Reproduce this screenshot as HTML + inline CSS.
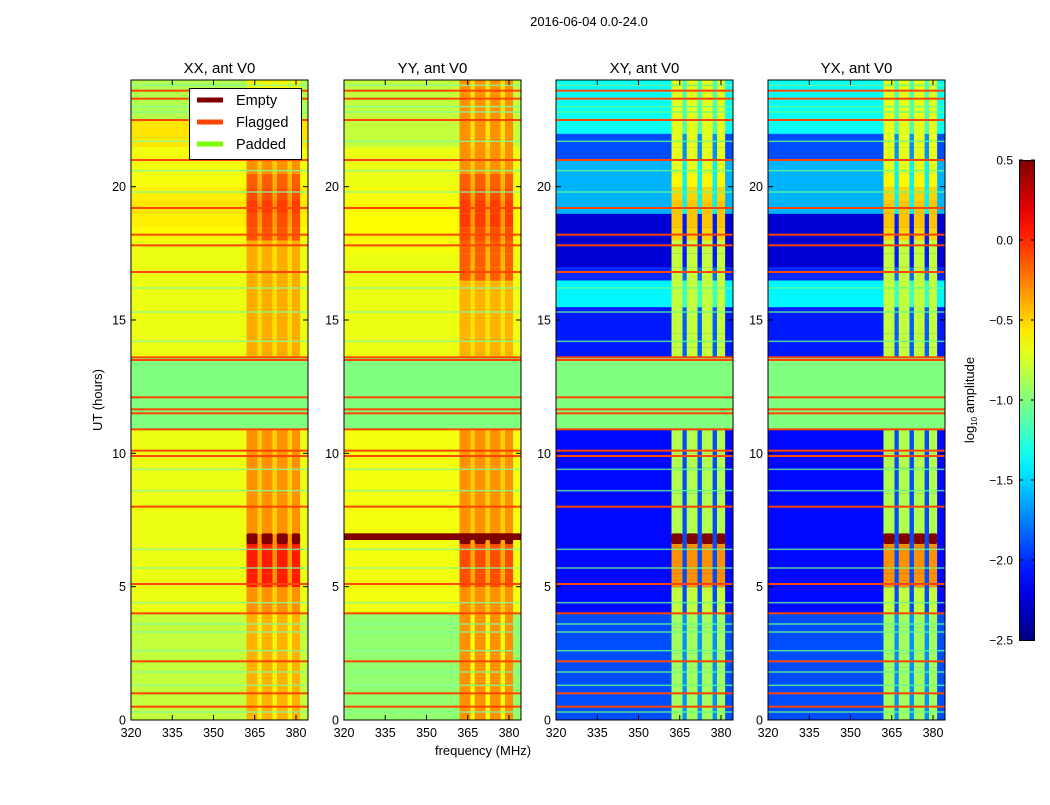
<!DOCTYPE html>
<html><head><meta charset="utf-8">
<style>
body{margin:0;background:#fff;}
svg text{font-family:"Liberation Sans",sans-serif;fill:#000;}
</style></head>
<body>
<svg id="fig" width="1050" height="800" viewBox="0 0 1050 800" xmlns="http://www.w3.org/2000/svg">
<rect width="1050" height="800" fill="#fff"/>
<text x="589" y="26" font-size="13" text-anchor="middle">2016-06-04 0.0-24.0</text>
<text transform="translate(102,400) rotate(-90)" font-size="13" text-anchor="middle">UT (hours)</text>
<text x="483" y="755" font-size="13" text-anchor="middle">frequency (MHz)</text>
<g id="panels"></g>
<g id="cbar"></g>
</svg>
<script>
const panelNames = ["XX, ant V0","YY, ant V0","XY, ant V0","YX, ant V0"];
const xTicks = [320,335,350,365,380];
const yTicks = [0,5,10,15,20];
const cbTicks = [0.5,0.0,-0.5,-1.0,-1.5,-2.0,-2.5];
const cbLabels = ["0.5","0.0","\u22120.5","\u22121.0","\u22121.5","\u22122.0","\u22122.5"];
// background level per 0.5 h row (48 rows, 0-24 h)
const xxBg = [-0.8,-0.8,-0.8,-0.8,-0.8,-0.8,-0.8,-0.8,-0.68,-0.68,-0.68,-0.68,-0.68,-0.68,-0.68,-0.68,-0.68,-0.68,-0.68,-0.68,-0.68,-0.68,-1,-1,-1,-1,-1,-0.68,-0.68,-0.68,-0.68,-0.68,-0.68,-0.68,-0.68,-0.68,-0.62,-0.58,-0.55,-0.58,-0.65,-0.66,-0.66,-0.55,-0.55,-0.85,-0.85,-0.85];
const xxSt = [-0.4,-0.4,-0.4,-0.4,-0.4,-0.4,-0.4,-0.4,-0.3,-0.3,0.05,0.05,0.05,0.05,-0.3,-0.3,-0.3,-0.3,-0.3,-0.3,-0.3,-0.3,-1,-1,-1,-1,-1,-0.38,-0.38,-0.38,-0.38,-0.38,-0.38,-0.38,-0.38,-0.38,-0.12,-0.1,-0.05,-0.1,-0.15,-0.3,-0.3,-0.3,-0.3,-0.6,-0.6,-0.6];
const yyBg = [-0.95,-0.95,-0.95,-0.95,-0.95,-0.95,-0.95,-0.95,-0.66,-0.66,-0.66,-0.66,-0.66,-0.66,-0.66,-0.66,-0.66,-0.66,-0.66,-0.66,-0.66,-0.66,-1,-1,-1,-1,-1,-0.68,-0.68,-0.68,-0.68,-0.68,-0.68,-0.68,-0.68,-0.65,-0.62,-0.62,-0.62,-0.65,-0.68,-0.68,-0.68,-0.8,-0.8,-0.8,-0.8,-0.8];
const yySt = [-0.3,-0.3,-0.3,-0.3,-0.3,-0.3,-0.3,-0.3,-0.3,-0.3,-0.1,-0.1,-0.1,-0.1,-0.3,-0.3,-0.3,-0.3,-0.3,-0.3,-0.3,-0.3,-1,-1,-1,-1,-1,-0.4,-0.4,-0.4,-0.4,-0.4,-0.4,-0.15,-0.15,-0.15,-0.1,-0.05,-0.05,-0.1,-0.15,-0.3,-0.3,-0.3,-0.3,-0.3,-0.3,-0.3];
const xyBg = [-1.9,-1.9,-1.9,-1.9,-1.9,-1.9,-1.9,-1.9,-2.1,-2.1,-2.1,-2.1,-2.1,-2.1,-2.1,-2.1,-2.1,-2.1,-2.1,-2.1,-2.1,-2.1,-1,-1,-1,-1,-1,-2.05,-2.05,-2.05,-2.05,-1.4,-1.4,-2.0,-2.25,-2.25,-2.25,-2.25,-1.6,-1.6,-1.6,-1.6,-1.9,-1.9,-1.35,-1.35,-1.35,-1.35];
const xySt = [-0.9,-0.9,-0.9,-0.9,-0.9,-0.9,-0.9,-0.9,-0.8,-0.8,-0.3,-0.3,-0.3,-0.3,-0.85,-0.85,-0.85,-0.85,-0.85,-0.85,-0.85,-0.85,-1,-1,-1,-1,-1,-0.8,-0.8,-0.8,-0.8,-0.8,-0.8,-0.8,-0.8,-0.8,-0.5,-0.45,-0.45,-0.5,-0.6,-0.7,-0.7,-0.7,-0.7,-0.7,-0.7,-0.7];
const bgRows = [xxBg,yyBg,xyBg,xyBg];
const stRows = [xxSt,yySt,xySt,xySt];
const stripeBands = [[362,366],[367.5,371.5],[373,377],[378.5,381.5]];
const gapBands = [[366,367.5],[371.5,373],[377,378.5]];
const paddedBands = [[10.9,13.6]];
const flaggedTimes = [0.5,1.0,2.2,4.0,5.1,8.0,9.9,10.1,10.9,11.5,11.65,12.1,13.5,13.6,16.8,17.8,18.2,19.2,21.0,22.5,23.3,23.6];
const cyanTimes = [0.3,1.3,1.8,2.6,3.3,3.6,4.4,5.7,6.4,8.6,9.4,12.5,14.2,15.3,16.2,19.8,20.6,21.7,22.8,23.0,23.8];
const emptyTimes = [[6.6,7.0]];
const yyEmptyFull = [[6.75,7.0]];

const NS="http://www.w3.org/2000/svg";
const panelX=[131,344,556,768], PW=177, PT=80, PB=720;
function xs(p,f){return panelX[p]+(f-320)*2.75;}
function ys(t){return PB-t*(PB-PT)/24;}
function jet(v){const t=Math.max(0,Math.min(1,(v+2.5)/3));const c=x=>Math.round(255*Math.max(0,Math.min(1,1.5-Math.abs(4*t-x))));return `rgb(${c(3)},${c(2)},${c(1)})`;}
function el(tag,attrs,parent){const e=document.createElementNS(NS,tag);for(const k in attrs)e.setAttribute(k,attrs[k]);parent.appendChild(e);return e;}
const root=document.getElementById('panels');
for(let p=0;p<4;p++){
  const g=el('g',{},root);
  
  
  const cells=el('g',{},g);
  
  
  const bg=bgRows[p], st=stRows[p];
  for(let i=0;i<bg.length;i++){
    const t0=i*0.5,t1=t0+0.5;
    const y=ys(t1),h=ys(t0)-ys(t1)+0.5;
    const r=el('rect',{x:xs(p,320),y:y,width:xs(p,384.4)-xs(p,320),height:h,fill:jet(bg[i])},cells);
    
    
    for(const b of stripeBands){
      const s=el('rect',{x:xs(p,b[0]),y:y,width:xs(p,b[1])-xs(p,b[0]),height:h,fill:jet(st[i])},cells);
      
      
    }
    for(const b of gapBands){
      const s=el('rect',{x:xs(p,b[0]),y:y,width:xs(p,b[1])-xs(p,b[0]),height:h,fill:jet(p<2?(bg[i]+st[i])/2:bg[i]+0.2)},cells);
      
      
    }
  }
  for(const t of cyanTimes){
    const r=el('rect',{x:xs(p,320),y:ys(t)-0.75,width:PW,height:1.5,fill:p<2?'#80ffa0':'#60ff90',opacity:0.8},g);
    
    
  }
  for(const b of paddedBands){
    const r=el('rect',{x:xs(p,320),y:ys(b[1]),width:PW,height:ys(b[0])-ys(b[1]),fill:'#80ff80'},g);
    
    
  }
  for(const t of flaggedTimes){
    const r=el('rect',{x:xs(p,320),y:ys(t)-1,width:PW,height:2,fill:'#ff4500'},g);
    
    
  }
  for(const b of emptyTimes){
    for(const s of stripeBands){
      const r=el('rect',{x:xs(p,s[0]),y:ys(b[1]),width:xs(p,s[1])-xs(p,s[0]),height:ys(b[0])-ys(b[1]),fill:'#800000',rx:2},g);
      
      
    }
  }
  if(p===1){for(const b of yyEmptyFull){
    const r=el('rect',{x:xs(p,320),y:ys(b[1]),width:PW,height:ys(b[0])-ys(b[1]),fill:'#800000'},g);
    
    
  }}
  const fr=el('rect',{x:panelX[p],y:PT,width:PW,height:PB-PT,fill:'none',stroke:'#000','stroke-width':1},g);
  
  
  const tt=el('text',{x:panelX[p]+PW/2,y:73,'font-size':15,'text-anchor':'middle'},g);
  tt.textContent=panelNames[p];
  
  
  for(const f of xTicks){
    const x=xs(p,f);
    el('line',{x1:x,x2:x,y1:PB,y2:PB-5,stroke:'#000'},g);
    el('line',{x1:x,x2:x,y1:PT,y2:PT+5,stroke:'#000'},g);
    const tx=el('text',{x:x,y:PB+17,'font-size':12.5,'text-anchor':'middle'},g);
    tx.textContent=f;
    
    
  }
  for(const t of yTicks){
    const y=ys(t);
    el('line',{x1:panelX[p],x2:panelX[p]+5,y1:y,y2:y,stroke:'#000'},g);
    el('line',{x1:panelX[p]+PW,x2:panelX[p]+PW-5,y1:y,y2:y,stroke:'#000'},g);
    const ty=el('text',{x:panelX[p]-5,y:y+4.5,'font-size':12.5,'text-anchor':'end'},g);
    ty.textContent=t;
    
    
  }
}
// legend
const lg=el('g',{},root);


el('rect',{x:189.5,y:88.5,width:112,height:71,fill:'#fff',stroke:'#000'},lg);
const legItems=[["Empty","#800000"],["Flagged","#ff4500"],["Padded","#7cfc00"]];
legItems.forEach((it,i)=>{
  const y=100+i*22;
  const ln=el('line',{x1:197,x2:223,y1:y,y2:y,stroke:it[1],'stroke-width':5},lg);
  
  
  const tx=el('text',{x:236,y:y+5,'font-size':14.5},lg);
  tx.textContent=it[0];
  
  
});
// colorbar
const cb=document.getElementById('cbar');
const defs=el('defs',{},cb);
const grad=el('linearGradient',{id:'jetg',x1:0,y1:1,x2:0,y2:0},defs);
for(let i=0;i<=20;i++){el('stop',{offset:i/20,'stop-color':jet(-2.5+3*i/20)},grad);}
const cbr=el('rect',{x:1019.5,y:160.5,width:15,height:480,fill:'url(#jetg)',stroke:'#000'},cb);


cbTicks.forEach((v,i)=>{
  const y=160+(0.5-v)/3*480;
  el('line',{x1:1019,x2:1023,y1:y,y2:y,stroke:'#000'},cb);
  el('line',{x1:1035,x2:1031,y1:y,y2:y,stroke:'#000'},cb);
  const tx=el('text',{x:1013,y:y+4.5,'font-size':12,'text-anchor':'end'},cb);
  tx.textContent=cbLabels[i];
  
  
});
const cbl=el('text',{transform:'translate(974,400) rotate(-90)','font-size':13,'text-anchor':'middle'},cb);
cbl.innerHTML='log<tspan font-size="8" dy="3">10</tspan><tspan dy="-3"> amplitude</tspan>';


</script>
</body></html>
